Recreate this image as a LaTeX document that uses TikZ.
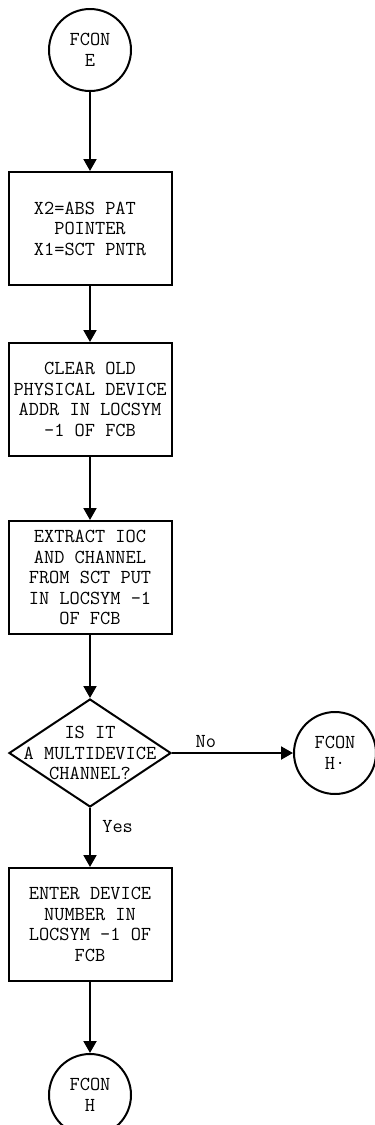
\documentclass[tikz,border=0pt]{standalone}
\usepackage{fontspec}
\usetikzlibrary{shapes.geometric,arrows.meta,positioning}

\begin{document}
\begin{tikzpicture}[font=\ttfamily\fontsize{19.8pt}{20.5pt}\selectfont,node distance=63pt,line width=2pt]
\tikzset{proc/.style={draw,minimum width=163pt,minimum height=113pt,inner sep=2pt,align=center},
  term/.style={draw,circle,minimum size=82pt,inner sep=0pt,align=center},
  ask/.style={draw,diamond,minimum width=162pt,minimum height=108pt,inner sep=0pt},
  flow/.style={-{Triangle[length=12pt,width=13pt]}}}
\fill[white] (0,0) rectangle (375pt,-1125pt);
\useasboundingbox (0,0) rectangle (375pt,-1125pt);
\node[term] (fe) at (90pt,-50pt) {FCON\\E};
\node[proc,align=left,below=79pt of fe] (ptr) {X2=ABS PAT\\\phantom{X2}POINTER\\X1=SCT PNTR};
\node[proc,below=56pt of ptr] (clr) {CLEAR OLD\\PHYSICAL DEVICE\\ADDR IN LOCSYM\\-1 OF FCB};
\node[proc,below=of clr] (ioc) {EXTRACT IOC\\AND CHANNEL\\FROM SCT PUT\\IN LOCSYM -1\\OF FCB};
\node[ask,below=of ioc,label={[align=center]center:{IS IT\\A MULTIDEVICE\\CHANNEL?}}] (multi) {};
\node[proc,below=59pt of multi] (dev) {ENTER DEVICE\\NUMBER IN\\LOCSYM -1 OF\\FCB};
\node[term,below=71pt of dev] (fh) {FCON\\H};
\node[term,right=121pt of multi] (fhno) {FCON\\H·};
\foreach \a/\b in {fe/ptr,ptr/clr,clr/ioc,ioc/multi,dev/fh} \draw[flow] (\a)--(\b);
\draw[flow] (multi) -- node[pos=0.28,above=1pt] {No} (fhno);
\draw[flow] (multi) -- node[pos=0.32,right=8pt] {Yes} (dev);
\end{tikzpicture}
\end{document}
